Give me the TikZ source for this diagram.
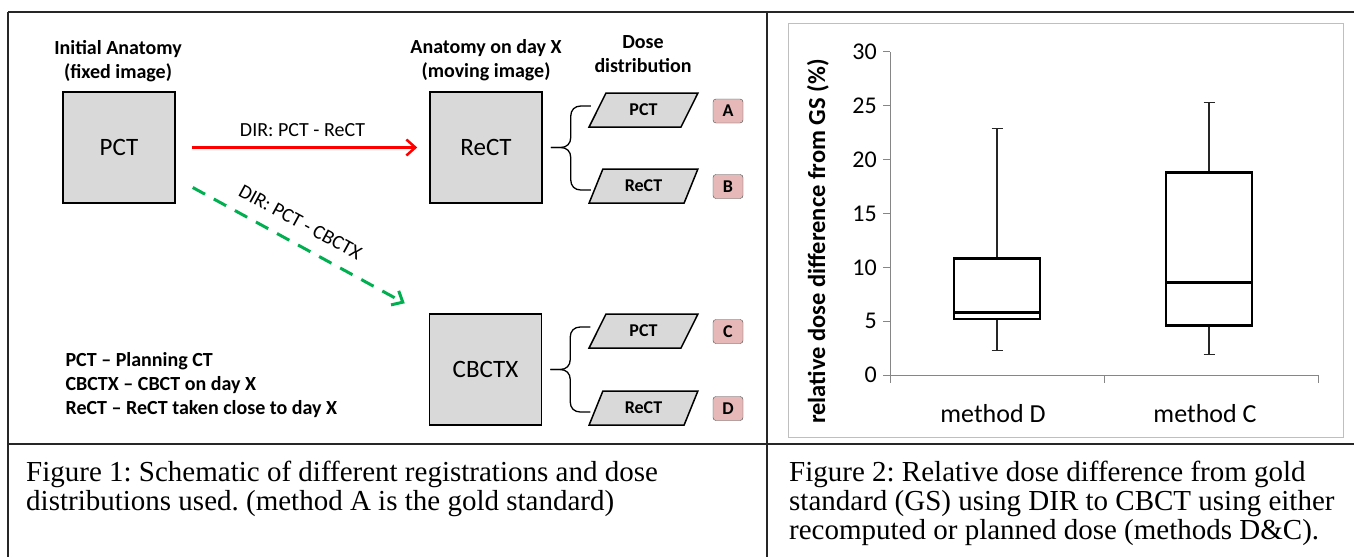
\documentclass[tikz,border=0pt]{standalone}
\usepackage{fontspec}
\setmainfont{Carlito}
\newfontfamily\timesfont{Liberation Serif}
\usetikzlibrary{arrows.meta,shapes.geometric,calc}

\definecolor{boxgray}{HTML}{D9D9D9}
\definecolor{tagpink}{HTML}{E6B9B8}
\definecolor{dirgreen}{HTML}{00B050}
\definecolor{axisgray}{HTML}{868686}
\definecolor{framegray}{HTML}{BFBFBF}

\tikzset{
  image/.style={draw, line width=1.5pt, fill=boxgray, minimum width=112pt,
    minimum height=111pt, inner sep=0pt, font=\fontsize{25}{30}\selectfont},
  head/.style={align=center, font=\bfseries\fontsize{20}{24}\selectfont},
  dose/.style={trapezium, trapezium left angle=62, trapezium right angle=118,
    trapezium stretches=true, draw, line width=1.5pt, fill=boxgray,
    minimum width=109pt, minimum height=34pt, inner sep=0pt,
    font=\bfseries\fontsize{18}{20}\selectfont},
  tag/.style={draw=black!70, fill=tagpink, rounded corners=3pt, minimum width=30pt,
    minimum height=24pt, inner sep=0pt, font=\bfseries\fontsize{18}{20}\selectfont},
  dirlabel/.style={text=black, font=\fontsize{20}{24}\selectfont, inner sep=2pt},
  caption/.style={anchor=north west, align=left, inner sep=0pt,
    font=\timesfont\frenchspacing\fontsize{29}{28.8}\selectfont},
}

% curly brace from an image to its two dose distributions
\newcommand{\dosebrace}[3]{%
  \draw[line width=1.3pt] ($(#1.east)+(8,0)$) coordinate (#1tip) -- ++(10,0)
    .. controls +(6,0) and +(0,6) .. ++(10,-10) coordinate (#1up)
    -- ($(#1up |- #2.west)+(0,6)$) .. controls +(0,-6) and +(-6,0) .. ++(10,-10) -- ++(10,0);
  \draw[line width=1.3pt] (#1tip) -- ++(10,0)
    .. controls +(6,0) and +(0,-6) .. ++(10,10) coordinate (#1dn)
    -- ($(#1dn |- #3.west)+(0,-6)$) .. controls +(0,6) and +(-6,0) .. ++(10,10) -- ++(10,0);
}

\begin{document}
\begin{tikzpicture}[x=1pt,y=-1pt]
    \useasboundingbox (0,0) rectangle (1354,557);
    \fill[white] (0,0) rectangle (1354,557);

    % table lines
    \draw[black!85, line width=2pt] (8,12) -- (1354,12);
    \draw[black!85, line width=2pt] (8,12) -- (8,557);
    \draw[black!85, line width=2pt] (767,12) -- (767,557);
    \draw[black!85, line width=2pt] (8,444) -- (1354,444);

    % images
    \node[image] (pct) at (119,147.5) {PCT};
    \node[image] (rect) at (486,147.5) {ReCT};
    \node[image] (cbct) at (485.5,369.5) {CBCTX};
    \node[head] (fixhead) at (118,61) {Initial Anatomy\\(fixed image)};
    \node[head] (movhead) at (486,60) {Anatomy on day X\\(moving image)};
    \node[head] (dosehead) at (643,54) {Dose\\distribution};

    % dose distributions
    \node[dose] (rpct) at (643.5,110) {PCT};
    \node[dose] (rrect) at (643.5,186) {ReCT};
    \node[dose] (cpct) at (643.5,331) {PCT};
    \node[dose] (crect) at (643.5,408) {ReCT};
    \node[tag] (ta) at (728,111) {A};
    \node[tag] (tb) at (728,186.5) {B};
    \node[tag] (tc) at (728,331.5) {C};
    \node[tag] (td) at (728,408.5) {D};
    \dosebrace{rect}{rpct}{rrect}
    \dosebrace{cbct}{cpct}{crect}

    % registrations
    \draw[-{Straight Barb[length=9pt,width=16pt]}, red, line width=2.5pt,
        shorten <=16pt, shorten >=12pt] (pct) -- (rect)
        node[midway, above=8pt, dirlabel] (dirre) {DIR: PCT - ReCT};
    \coordinate (g0) at ($(pct.east)+(17,40)$);
    \coordinate (g1) at ($(cbct.north west)+(-24,-10)$);
    \draw[-{Straight Barb[length=9pt,width=16pt]}, dirgreen, line width=3pt,
        dash pattern=on 14pt off 10pt] (g0) -- (g1)
        node[pos=0.46, above=11pt, sloped, dirlabel] (dircb) {DIR: PCT - CBCTX};

    \node[anchor=west, align=left, font=\bfseries\fontsize{20}{24}\selectfont] (legend) at (62,385)
        {PCT -- Planning CT\\CBCTX -- CBCT on day X\\ReCT -- ReCT taken close to day X};

    % box plot
    \draw[framegray, line width=1pt] (788,23) rectangle (1343,437);
    \begin{scope}[shift={(890,375)}, y=10.77pt]
        \draw[axisgray, line width=1pt] (0,0) -- (0,30);
        \draw[axisgray, line width=1pt] (0,0) -- (428,0);
        \foreach \v in {0,5,...,30} {
            \draw[axisgray, line width=1pt] (-7,\v) -- (0,\v);
            \node[anchor=east, inner sep=0pt, font=\fontsize{24}{28}\selectfont] (yt\v) at (-13,\v) {\v};
        }
        \foreach \x in {0,214,428}
            \draw[axisgray, line width=1pt] (\x,0) -- (\x,-0.75);
        \foreach \cx/\lo/\qa/\md/\qb/\hi/\m in {107/2.3/5.2/5.8/10.8/22.9/D, 319/1.9/4.6/8.6/18.8/25.3/C} {
            \draw[black!85, line width=1.2pt] (\cx,\qb) -- (\cx,\hi) (\cx-5.5,\hi) -- (\cx+5.5,\hi);
            \draw[black!85, line width=1.2pt] (\cx,\qa) -- (\cx,\lo) (\cx-5.5,\lo) -- (\cx+5.5,\lo);
            \draw[line width=2.5pt] (\cx-43,\qa) rectangle (\cx+43,\qb);
            \draw[line width=2.5pt] (\cx-43,\md) -- (\cx+43,\md);
            \node[font=\fontsize{26}{30}\selectfont] (meth\m) at (\cx-4,-3.55) {method \m};
        }
        \node[rotate=90, font=\bfseries\fontsize{24.5}{30}\selectfont] (ylab) at (-72,12.4)
            {relative dose difference from GS (\%)};
    \end{scope}

    % captions
    \node[caption] (cap1) at (26,461) {Figure 1: Schematic of different registrations and dose\\
        distributions used. (method A is the gold standard)};
    \node[caption] (cap2) at (789,461) {Figure 2: Relative dose difference from gold\\
        standard (GS) using DIR to CBCT using either\\recomputed or planned dose (methods D\&C).};
\end{tikzpicture}
\end{document}
